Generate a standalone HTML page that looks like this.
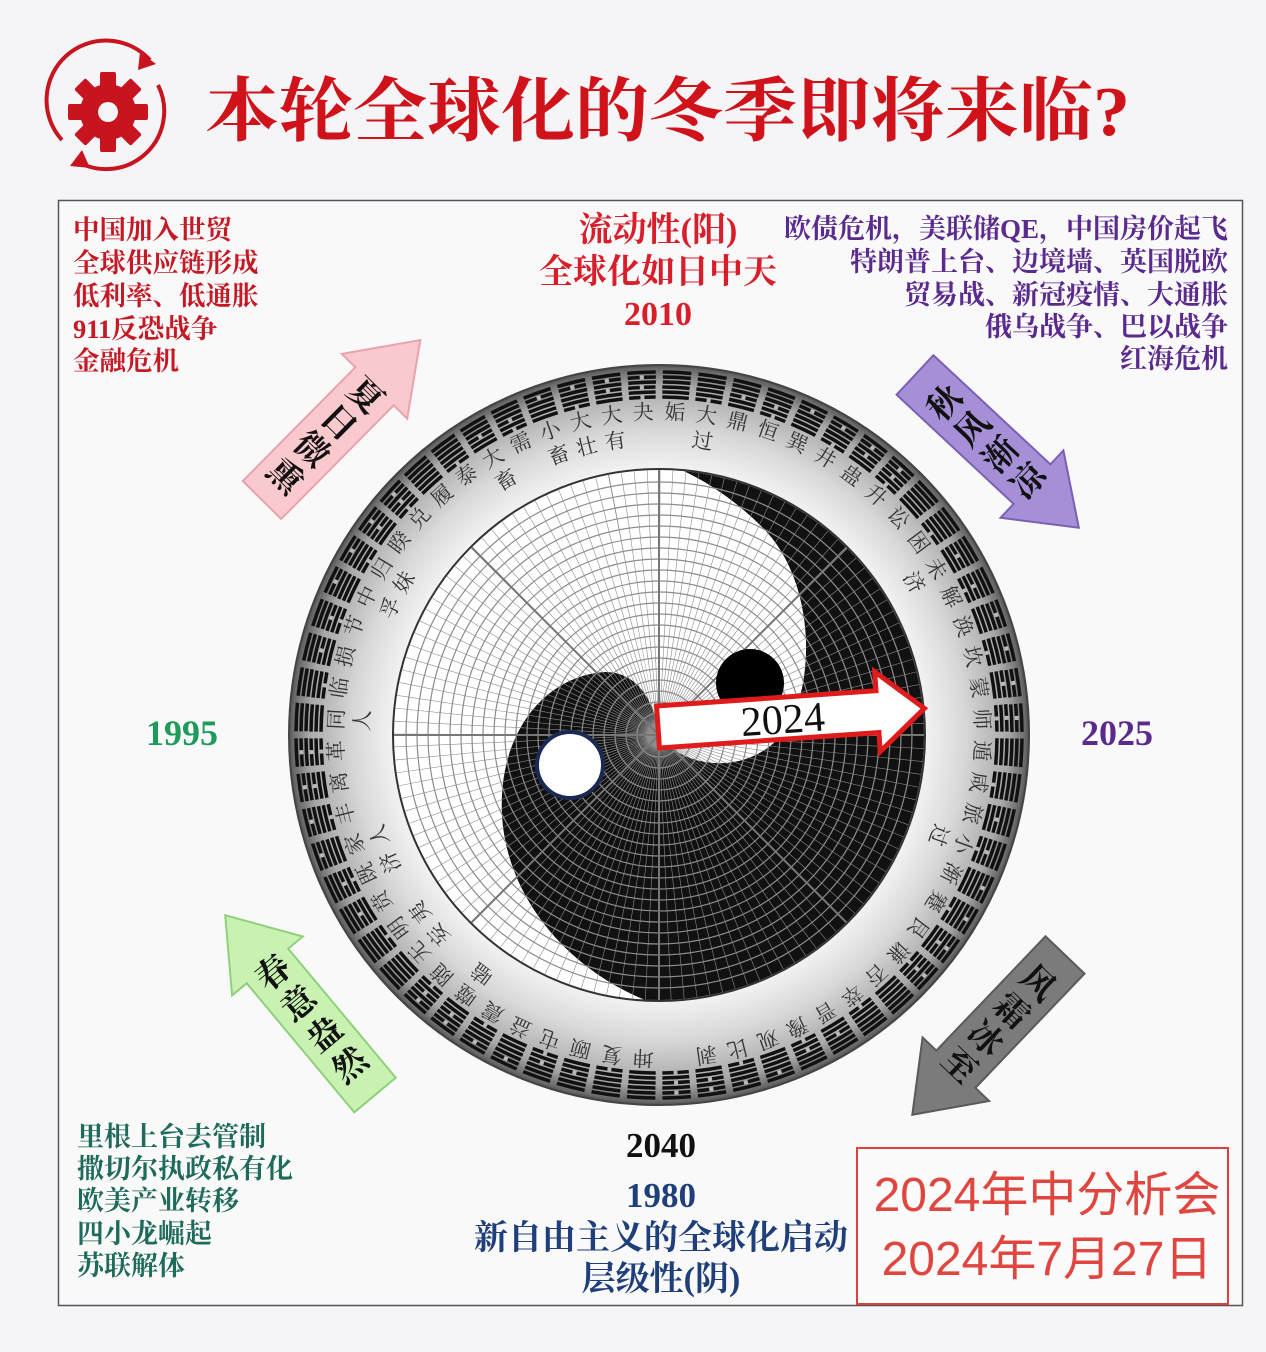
<!DOCTYPE html>
<html><head><meta charset="utf-8"><style>
html,body{margin:0;padding:0;background:#f5f5f7;}
svg{display:block;font-family:"Liberation Serif","Noto Serif CJK SC",serif;}
</style></head><body>
<svg width="1266" height="1352" viewBox="0 0 1266 1352" xmlns="http://www.w3.org/2000/svg">
<defs>
<radialGradient id="rg" gradientUnits="userSpaceOnUse" cx="659" cy="735" r="372">
<stop offset="0.70" stop-color="#f6f6f6"/><stop offset="0.82" stop-color="#d8d8d8"/><stop offset="0.94" stop-color="#a8a8a8"/><stop offset="0.985" stop-color="#6a6a6a"/><stop offset="1" stop-color="#444"/>
</radialGradient>
<clipPath id="disk"><circle cx="659" cy="735" r="265"/></clipPath>
</defs>
<rect width="1266" height="1352" fill="#f5f5f7"/>
<g fill="none" stroke="#c8141e" stroke-width="4">
<path d="M62 140 A58 58 0 0 1 150 60"/><path d="M158 85 A58 58 0 0 1 75 160"/>
</g>
<path d="M140 52 L156 64 L138 70 Z" fill="#c8141e"/><path d="M82 150 L70 166 L90 168 Z" fill="#c8141e"/>
<g transform="translate(108,112)" fill="#c8141e">
<circle r="28"/>
<g id="t"><rect x="-8" y="-40" width="16" height="16" rx="2"/></g>
<use href="#t" transform="rotate(45)"/><use href="#t" transform="rotate(90)"/><use href="#t" transform="rotate(135)"/><use href="#t" transform="rotate(180)"/><use href="#t" transform="rotate(225)"/><use href="#t" transform="rotate(270)"/><use href="#t" transform="rotate(315)"/>
<circle r="10" fill="#f5f5f7"/>
</g>
<text x="205" y="135" font-size="70" font-weight="bold" fill="#d0121b" textLength="925" lengthAdjust="spacingAndGlyphs">本轮全球化的冬季即将来临?</text>
<rect x="58.5" y="200.5" width="1184" height="1105" fill="#f9f9f9" stroke="#555" stroke-width="1.5"/>
<g font-size="26.5" font-weight="bold" fill="#c41a26">
<text x="73" y="239">中国加入世贸</text><text x="73" y="272">全球供应链形成</text><text x="73" y="305">低利率、低通胀</text><text x="73" y="338">911反恐战争</text><text x="73" y="370">金融危机</text>
</g>
<g font-size="34" font-weight="bold" fill="#d81e2a" text-anchor="middle">
<text x="658" y="241">流动性(阳)</text><text x="658" y="283">全球化如日中天</text><text x="658" y="325">2010</text>
</g>
<g font-size="27" font-weight="bold" fill="#5b2a8e" text-anchor="end">
<text x="1228" y="238">欧债危机，美联储QE，中国房价起飞</text><text x="1228" y="271">特朗普上台、边境墙、英国脱欧</text><text x="1228" y="304">贸易战、新冠疫情、大通胀</text><text x="1228" y="336">俄乌战争、巴以战争</text><text x="1228" y="368">红海危机</text>
</g>
<text x="182" y="745" font-size="36" font-weight="bold" fill="#1e9a5a" text-anchor="middle">1995</text>
<text x="1117" y="745" font-size="36" font-weight="bold" fill="#5b2a8e" text-anchor="middle">2025</text>
<g font-size="27" font-weight="bold" fill="#1f6b5b">
<text x="77" y="1146">里根上台去管制</text><text x="77" y="1178">撒切尔执政私有化</text><text x="77" y="1210">欧美产业转移</text><text x="77" y="1243">四小龙崛起</text><text x="77" y="1275">苏联解体</text>
</g>
<g text-anchor="middle" font-weight="bold">
<text x="661" y="1157" font-size="35" fill="#111">2040</text>
<text x="661" y="1207" font-size="35" fill="#1f3f7a">1980</text>
<text x="661" y="1249" font-size="34" fill="#1f3f7a">新自由主义的全球化启动</text>
<text x="661" y="1290" font-size="34" fill="#1f3f7a">层级性(阴)</text>
</g>
<rect x="857" y="1148" width="371" height="156" fill="#fbfbfb" stroke="#e0403a" stroke-width="2"/>
<g font-family="Liberation Sans,Noto Sans CJK SC,sans-serif" font-size="48" fill="#e0453f" text-anchor="middle">
<text x="1047" y="1211">2024年中分析会</text><text x="1047" y="1275">2024年7月27日</text>
</g>
<circle cx="659" cy="735" r="370" fill="url(#rg)" stroke="#444" stroke-width="2"/>
<g fill="none" stroke="#111" stroke-width="3.5">
<circle cx="659" cy="735" r="338" stroke-dasharray="26.5 6.68" stroke-dashoffset="-3.3"/>
<circle cx="659" cy="735" r="343" stroke-dasharray="26.9 6.77" stroke-dashoffset="-3.4"/>
<circle cx="659" cy="735" r="348" stroke-dasharray="27.3 6.86" stroke-dashoffset="-3.4"/>
<circle cx="659" cy="735" r="353" stroke-dasharray="27.7 6.96" stroke-dashoffset="-3.5"/>
<circle cx="659" cy="735" r="358" stroke-dasharray="28.1 7.05" stroke-dashoffset="-3.5"/>
<circle cx="659" cy="735" r="363" stroke-dasharray="28.5 7.14" stroke-dashoffset="-3.6"/>
</g>
<g fill="none" stroke="#b8b8b8" stroke-width="4">
<circle cx="659" cy="735" r="338" stroke-dasharray="0 47.78 3.98 14.6"/>
<circle cx="659" cy="735" r="348" stroke-dasharray="0 83.35 4.1 30.06 4.1 15.03"/>
<circle cx="659" cy="735" r="358" stroke-dasharray="0 156.07 4.22 30.93 4.22 30.93 4.22 30.93 4.22 15.47"/>
</g>
<g font-size="21" fill="#333" text-anchor="middle" font-family="Noto Serif CJK SC,serif">
<g transform="rotate(-2.81 659 735)"><text x="659" y="419">夬</text></g>
<g transform="rotate(-8.44 659 735)"><text x="659" y="419">大</text><text x="659" y="445">有</text></g>
<g transform="rotate(-14.06 659 735)"><text x="659" y="419">大</text><text x="659" y="445">壮</text></g>
<g transform="rotate(-19.69 659 735)"><text x="659" y="419">小</text><text x="659" y="445">畜</text></g>
<g transform="rotate(-25.31 659 735)"><text x="659" y="419">需</text></g>
<g transform="rotate(-30.94 659 735)"><text x="659" y="419">大</text><text x="659" y="445">畜</text></g>
<g transform="rotate(-36.56 659 735)"><text x="659" y="419">泰</text></g>
<g transform="rotate(-42.19 659 735)"><text x="659" y="419">履</text></g>
<g transform="rotate(-47.81 659 735)"><text x="659" y="419">兑</text></g>
<g transform="rotate(-53.44 659 735)"><text x="659" y="419">睽</text></g>
<g transform="rotate(-59.06 659 735)"><text x="659" y="419">归</text><text x="659" y="445">妹</text></g>
<g transform="rotate(-64.69 659 735)"><text x="659" y="419">中</text><text x="659" y="445">孚</text></g>
<g transform="rotate(-70.31 659 735)"><text x="659" y="419">节</text></g>
<g transform="rotate(-75.94 659 735)"><text x="659" y="419">损</text></g>
<g transform="rotate(-81.56 659 735)"><text x="659" y="419">临</text></g>
<g transform="rotate(-87.19 659 735)"><text x="659" y="419">同</text><text x="659" y="445">人</text></g>
<g transform="rotate(-92.81 659 735)"><text x="659" y="419">革</text></g>
<g transform="rotate(-98.44 659 735)"><text x="659" y="419">离</text></g>
<g transform="rotate(-104.06 659 735)"><text x="659" y="419">丰</text></g>
<g transform="rotate(-109.69 659 735)"><text x="659" y="419">家</text><text x="659" y="445">人</text></g>
<g transform="rotate(-115.31 659 735)"><text x="659" y="419">既</text><text x="659" y="445">济</text></g>
<g transform="rotate(-120.94 659 735)"><text x="659" y="419">贲</text></g>
<g transform="rotate(-126.56 659 735)"><text x="659" y="419">明</text><text x="659" y="445">夷</text></g>
<g transform="rotate(-132.19 659 735)"><text x="659" y="419">无</text><text x="659" y="445">妄</text></g>
<g transform="rotate(-137.81 659 735)"><text x="659" y="419">随</text></g>
<g transform="rotate(-143.44 659 735)"><text x="659" y="419">噬</text><text x="659" y="445">嗑</text></g>
<g transform="rotate(-149.06 659 735)"><text x="659" y="419">震</text></g>
<g transform="rotate(-154.69 659 735)"><text x="659" y="419">益</text></g>
<g transform="rotate(-160.31 659 735)"><text x="659" y="419">屯</text></g>
<g transform="rotate(-165.94 659 735)"><text x="659" y="419">颐</text></g>
<g transform="rotate(-171.56 659 735)"><text x="659" y="419">复</text></g>
<g transform="rotate(-177.19 659 735)"><text x="659" y="419">坤</text></g>
<g transform="rotate(2.81 659 735)"><text x="659" y="419">姤</text></g>
<g transform="rotate(8.44 659 735)"><text x="659" y="419">大</text><text x="659" y="445">过</text></g>
<g transform="rotate(14.06 659 735)"><text x="659" y="419">鼎</text></g>
<g transform="rotate(19.69 659 735)"><text x="659" y="419">恒</text></g>
<g transform="rotate(25.31 659 735)"><text x="659" y="419">巽</text></g>
<g transform="rotate(30.94 659 735)"><text x="659" y="419">井</text></g>
<g transform="rotate(36.56 659 735)"><text x="659" y="419">蛊</text></g>
<g transform="rotate(42.19 659 735)"><text x="659" y="419">升</text></g>
<g transform="rotate(47.81 659 735)"><text x="659" y="419">讼</text></g>
<g transform="rotate(53.44 659 735)"><text x="659" y="419">困</text></g>
<g transform="rotate(59.06 659 735)"><text x="659" y="419">未</text><text x="659" y="445">济</text></g>
<g transform="rotate(64.69 659 735)"><text x="659" y="419">解</text></g>
<g transform="rotate(70.31 659 735)"><text x="659" y="419">涣</text></g>
<g transform="rotate(75.94 659 735)"><text x="659" y="419">坎</text></g>
<g transform="rotate(81.56 659 735)"><text x="659" y="419">蒙</text></g>
<g transform="rotate(87.19 659 735)"><text x="659" y="419">师</text></g>
<g transform="rotate(92.81 659 735)"><text x="659" y="419">遁</text></g>
<g transform="rotate(98.44 659 735)"><text x="659" y="419">咸</text></g>
<g transform="rotate(104.06 659 735)"><text x="659" y="419">旅</text></g>
<g transform="rotate(109.69 659 735)"><text x="659" y="419">小</text><text x="659" y="445">过</text></g>
<g transform="rotate(115.31 659 735)"><text x="659" y="419">渐</text></g>
<g transform="rotate(120.94 659 735)"><text x="659" y="419">蹇</text></g>
<g transform="rotate(126.56 659 735)"><text x="659" y="419">艮</text></g>
<g transform="rotate(132.19 659 735)"><text x="659" y="419">谦</text></g>
<g transform="rotate(137.81 659 735)"><text x="659" y="419">否</text></g>
<g transform="rotate(143.44 659 735)"><text x="659" y="419">萃</text></g>
<g transform="rotate(149.06 659 735)"><text x="659" y="419">晋</text></g>
<g transform="rotate(154.69 659 735)"><text x="659" y="419">豫</text></g>
<g transform="rotate(160.31 659 735)"><text x="659" y="419">观</text></g>
<g transform="rotate(165.94 659 735)"><text x="659" y="419">比</text></g>
<g transform="rotate(171.56 659 735)"><text x="659" y="419">剥</text></g>
</g>
<circle cx="659" cy="735" r="266" fill="#fff" stroke="#333" stroke-width="2"/>
<g clip-path="url(#disk)">
<path d="M677,468 L690,462 A265 265 0 0 1 940,735 A265 265 0 0 1 645,1010 L645,1000 C560,965 497,885 502,795 C505,730 545,676 605,672 C640,672 655,705 659,735 C685,772 760,778 792,720 C818,660 808,572 762,527 C735,500 705,480 677,468 Z" fill="#111"/>
<circle cx="659" cy="735" r="132.5" fill="none" stroke="#8c8c8c" stroke-width="265" stroke-dasharray="0.6 5.904"/>
<g fill="none" stroke="#8c8c8c" stroke-width="1.2">
<circle cx="659" cy="735" r="22"/><circle cx="659" cy="735" r="33"/><circle cx="659" cy="735" r="44"/><circle cx="659" cy="735" r="55"/><circle cx="659" cy="735" r="66"/><circle cx="659" cy="735" r="77"/><circle cx="659" cy="735" r="88"/><circle cx="659" cy="735" r="99"/><circle cx="659" cy="735" r="110"/><circle cx="659" cy="735" r="121"/><circle cx="659" cy="735" r="132"/><circle cx="659" cy="735" r="143"/><circle cx="659" cy="735" r="154"/><circle cx="659" cy="735" r="165"/><circle cx="659" cy="735" r="176"/><circle cx="659" cy="735" r="187"/><circle cx="659" cy="735" r="198"/><circle cx="659" cy="735" r="209"/><circle cx="659" cy="735" r="220"/><circle cx="659" cy="735" r="231"/><circle cx="659" cy="735" r="242"/><circle cx="659" cy="735" r="253"/>
</g>
<g stroke="#777" stroke-width="2">
<line x1="394" y1="735" x2="924" y2="735"/><line x1="659" y1="470" x2="659" y2="1000"/>
<line x1="471.6" y1="547.6" x2="846.4" y2="922.4"/><line x1="471.6" y1="922.4" x2="846.4" y2="547.6"/>
</g>
</g>
<circle cx="750" cy="683" r="34" fill="#000"/>
<circle cx="570" cy="765" r="33" fill="#fff" stroke="#1a2a55" stroke-width="4"/>
<g transform="translate(658 727) rotate(-4)">
<polygon points="0,-21 220,-21 220,-40 267,0 220,40 220,21 0,21" fill="#fff" stroke="#e01b1b" stroke-width="5" stroke-linejoin="miter"/>
<text x="125" y="15" font-size="42" text-anchor="middle" fill="#111">2024</text>
</g>
<g font-size="34" font-weight="bold" fill="#111" text-anchor="middle" dominant-baseline="central" font-family="Noto Serif CJK SC,serif">
<g transform="translate(262 500) rotate(-45.3)">
<polygon points="0,-27 160,-27 160,-46 225,0 160,46 160,27 0,27" fill="#f9c9ce" stroke="#e9a3ac" stroke-width="2"/>
<text transform="translate(150 0) rotate(90)">夏</text><text transform="translate(112 0) rotate(90)">日</text><text transform="translate(74 0) rotate(90)">微</text><text transform="translate(36 0) rotate(90)">熏</text>
</g>
<g transform="translate(915 375) rotate(43)">
<polygon points="0,-27 160,-27 160,-46 224,0 160,46 160,27 0,27" fill="#a58fd6" stroke="#7a5fb5" stroke-width="2"/>
<text transform="translate(38 0) rotate(-90)">秋</text><text transform="translate(76 0) rotate(-90)">风</text><text transform="translate(114 0) rotate(-90)">渐</text><text transform="translate(152 0) rotate(-90)">凉</text>
</g>
<g transform="translate(1065 955) rotate(133.7)">
<polygon points="0,-27 158,-27 158,-46 221,0 158,46 158,27 0,27" fill="#7b7b7b" stroke="#5a5a5a" stroke-width="2"/>
<text transform="translate(36 0) rotate(-90)">风</text><text transform="translate(74 0) rotate(-90)">霜</text><text transform="translate(112 0) rotate(-90)">冰</text><text transform="translate(150 0) rotate(-90)">至</text>
</g>
<g transform="translate(375 1095) rotate(-129.8)">
<polygon points="0,-27 168,-27 168,-46 234,0 168,46 168,27 0,27" fill="#c9f2b2" stroke="#8fd07a" stroke-width="2"/>
<text transform="translate(162 0) rotate(90)">春</text><text transform="translate(122 0) rotate(90)">意</text><text transform="translate(82 0) rotate(90)">盎</text><text transform="translate(42 0) rotate(90)">然</text>
</g>
</g>
</svg>
</body></html>
